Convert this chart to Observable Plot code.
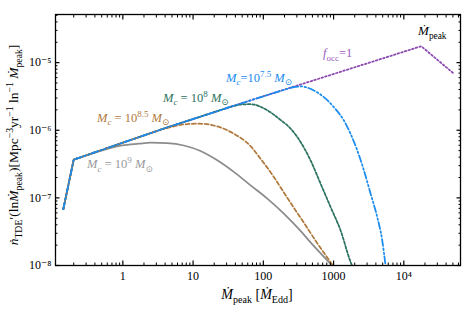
<!DOCTYPE html>
<html><head><meta charset="utf-8">
<script src="https://cdn.jsdelivr.net/npm/d3@7"></script>
<script src="https://cdn.jsdelivr.net/npm/@observablehq/plot@0.6"></script>
<style>body{margin:0;background:#fff} svg{font-family:"Liberation Serif","DejaVu Serif",serif}</style>
</head><body><div id="chart"></div>
<script>
// shared rising envelope (f_occ = 1 until the cut-off)
const mainX = [0.142, 0.2, 4.05, 65.8, 1.77e4];
const mainY = [6.8e-8, 3.68e-7, 1.08e-6, 2.77e-6, 1.75e-5];
// after-peak of the f_occ = 1 curve
const occX = [5.05e4];
const occY = [7.0e-6];
// M_c = 1e9
const grayX = [0.33, 0.6, 0.98, 1.69, 2.48, 4.29, 7.38, 12.8, 22.1, 38, 65.8, 114, 196, 339, 470, 957];
const grayY = [4.37e-7, 5.3e-7, 5.98e-7, 6.34e-7, 6.56e-7, 6.45e-7, 5.95e-7, 4.93e-7, 3.59e-7, 2.42e-7, 1.53e-7, 9.77e-8, 5.86e-8, 3.25e-8, 2.2e-8, 1e-8];
// M_c = 10^8.5
const brownX = [3.44, 4.77, 7.38, 12.1, 22.1, 38, 65.8, 91.2, 141, 196, 304, 422, 524, 980];
const brownY = [1.02e-6, 1.11e-6, 1.22e-6, 1.25e-6, 1.14e-6, 8.9e-7, 5.82e-7, 3.8e-7, 2.04e-7, 1.2e-7, 6.0e-8, 3.6e-8, 2.54e-8, 1e-8];
// M_c = 1e8
const greenX = [34.1, 48, 65.8, 114, 176, 244, 339, 470, 652, 905, 1256, 1746, 1832];
const greenY = [2.22e-6, 2.4e-6, 2.43e-6, 1.97e-6, 1.42e-6, 1.06e-6, 6.7e-7, 3.59e-7, 1.63e-7, 7.35e-8, 3.32e-8, 1.13e-8, 1e-8];
// M_c = 10^7.5
const blueX = [250, 339, 524, 727, 1008, 1400, 1742, 2172, 2700, 3360, 4180, 4920, 5490];
const blueY = [4.28e-6, 4.45e-6, 3.88e-6, 3.09e-6, 2.2e-6, 1.4e-6, 8.9e-7, 5.05e-7, 2.56e-7, 1.16e-7, 5.22e-8, 2.37e-8, 1e-8];

const xMajor = [1, 10, 100, 1000, 10000];
const xMajorLabels = ["1", "10", "100", "1000", "10⁴"];
const yMajor = [1e-8, 1e-7, 1e-6, 1e-5];
const yMajorLabels = ["10⁻⁸", "10⁻⁷", "10⁻⁶", "10⁻⁵"];

function minors(lo, hi) {
  const out = [];
  for (let e = Math.floor(Math.log10(lo)); e <= Math.ceil(Math.log10(hi)); e++)
    for (let m = 2; m <= 9; m++) { const v = m * Math.pow(10, e); if (v >= lo && v <= hi) out.push(v); }
  return out;
}
const xDomain = [0.110, 6.41e4];
const yDomain = [1e-8, 5.15e-5];
const xMinor = minors(...xDomain);
const yMinor = minors(...yDomain);

// envelope part (straight segments) up to the departure point
function head(x, y) {
  const pts = [];
  mainX.forEach((v, i) => { if (v < x[0]) pts.push({x: v, y: mainY[i]}); });
  pts.push({x: x[0], y: y[0]});
  return pts;
}
// own smooth tail
function tail(x, y) { return x.map((v, i) => ({x: v, y: y[i]})); }
const occ = [...mainX.map((v, i) => ({x: v, y: mainY[i]})), ...tail(occX, occY)];

const C = {gray: "#8c8c8c", brown: "#b07a3e", green: "#2b7260", blue: "#1a8bef", purple: "#8d4bb0"};
const lw = 1.75;

const styles = [
  [grayX, grayY, {stroke: C.gray}],
  [greenX, greenY, {stroke: C.green, strokeDasharray: "2.6,1.8"}],
  [brownX, brownY, {stroke: C.brown, strokeDasharray: "4,2.4"}],
  [blueX, blueY, {stroke: C.blue, strokeDasharray: "7,2.4,1.6,2.4,1.6,2.4"}]
];
const curveMarks = [];
for (const [x, y, st] of styles) {
  curveMarks.push(Plot.line(head(x, y), {x: "x", y: "y", strokeWidth: lw, clip: true, ...st}));
  curveMarks.push(Plot.line(tail(x, y), {x: "x", y: "y", strokeWidth: lw, clip: true, curve: "monotone-x", ...st}));
}

const chart = Plot.plot({
  width: 463, height: 313,
  marginLeft: 55, marginRight: 3, marginTop: 14, marginBottom: 48,
  style: {fontFamily: "Liberation Serif, DejaVu Serif, serif", background: "#fff"},
  x: {type: "log", domain: xDomain},
  y: {type: "log", domain: yDomain},
  marks: [
    Plot.line(occ, {x: "x", y: "y", stroke: C.purple, strokeWidth: 1.8, strokeDasharray: "1.6,2.2", clip: true}),
    ...curveMarks,
    Plot.axisX(xMajor, {anchor: "bottom", tickSize: -4.5, tickFormat: () => "", label: null, strokeWidth: 1.2}),
    Plot.axisX(xMinor, {anchor: "bottom", tickSize: -2.5, tickFormat: () => "", label: null}),
    Plot.axisX(xMajor, {anchor: "top", tickSize: -4.5, tickFormat: () => "", label: null, strokeWidth: 1.2}),
    Plot.axisX(xMinor, {anchor: "top", tickSize: -2.5, tickFormat: () => "", label: null}),
    Plot.axisY(yMajor, {anchor: "left", tickSize: -4.5, tickFormat: () => "", label: null, strokeWidth: 1.2}),
    Plot.axisY(yMinor, {anchor: "left", tickSize: -2.5, tickFormat: () => "", label: null}),
    Plot.axisY(yMajor, {anchor: "right", tickSize: -4.5, tickFormat: () => "", label: null, strokeWidth: 1.2}),
    Plot.axisY(yMinor, {anchor: "right", tickSize: -2.5, tickFormat: () => "", label: null}),
    Plot.axisX(xMajor, {anchor: "bottom", tickSize: 0, tickPadding: 6, fontSize: 12, label: null,
      tickFormat: d => xMajorLabels[xMajor.indexOf(d)]}),
    Plot.axisY(yMajor, {anchor: "left", tickSize: 0, tickPadding: 4, fontSize: 12, label: null,
      tickFormat: d => yMajorLabels[yMajor.indexOf(d)]}),
    Plot.frame({stroke: "#000", strokeWidth: 1.3})
  ]
});
document.getElementById("chart").append(chart);

const sx = chart.scale("x"), sy = chart.scale("y");
const svg = d3.select(chart);
const g = svg.append("g");

function rich(x, y, segs, {size = 12, fill = "#000", anchor = "start", rotate = 0} = {}) {
  const t = g.append("text").attr("x", x).attr("y", y).attr("font-size", size)
    .attr("fill", fill).attr("text-anchor", anchor);
  if (rotate) t.attr("transform", `rotate(${rotate},${x},${y})`);
  let cur = 0;
  for (const s of segs) {
    const txt = s[0], f = s[1] || {};
    const off = f.sub ? size * 0.3 : f.sup ? -size * 0.4 : 0;
    const sp = t.append("tspan").text(txt).attr("dy", off - cur);
    if (f.i) sp.attr("font-style", "italic");
    if (f.sub || f.sup) sp.attr("font-size", size * 0.72);
    cur = off;
  }
}
const I = {i: true}, SUB = {sub: true}, ISUB = {i: true, sub: true}, SUP = {sup: true};

// curve labels, anchored in data coordinates
rich(sx.apply(0.315), sy.apply(2.74e-7), [["M", I], ["c", ISUB], [" = 10"], ["9", SUP], [" "], ["M", I], ["⊙", SUB]], {fill: "#9a9a9a", size: 12.5});
rich(sx.apply(0.436), sy.apply(1.32e-6), [["M", I], ["c", ISUB], [" = 10"], ["8.5", SUP], [" "], ["M", I], ["⊙", SUB]], {fill: C.brown, size: 12.5});
rich(sx.apply(3.8), sy.apply(2.61e-6), [["M", I], ["c", ISUB], [" = 10"], ["8", SUP], [" "], ["M", I], ["⊙", SUB]], {fill: C.green, size: 12.5});
rich(sx.apply(29.9), sy.apply(5.15e-6), [["M", I], ["c", ISUB], ["=10"], ["7.5", SUP], [" "], ["M", I], ["⊙", SUB]], {fill: C.blue, size: 12.5});
rich(sx.apply(719), sy.apply(1.2e-5), [["f", I], ["occ", SUB], ["=1"]], {fill: "#9b5cc0", size: 12.5});
rich(sx.apply(1.62e4), sy.apply(2.52e-5), [["Ṁ", I], ["peak", SUB]], {size: 13});

// axis titles
rich(257, 299, [["Ṁ", I], ["peak", SUB], [" [", {}], ["Ṁ", I], ["Edd", SUB], ["]"]], {size: 14, anchor: "middle"});
rich(18, 145, [["ṅ", I], ["TDE", SUB], ["′(ln"], ["Ṁ", I], ["peak", SUB], [")[Mpc"], ["−3", SUP], ["yr"], ["−1", SUP], [" ln"], ["−1", SUP], [" "], ["Ṁ", I], ["peak", SUB], ["]"]], {size: 13.5, anchor: "middle", rotate: -90});
</script>
</body></html>
